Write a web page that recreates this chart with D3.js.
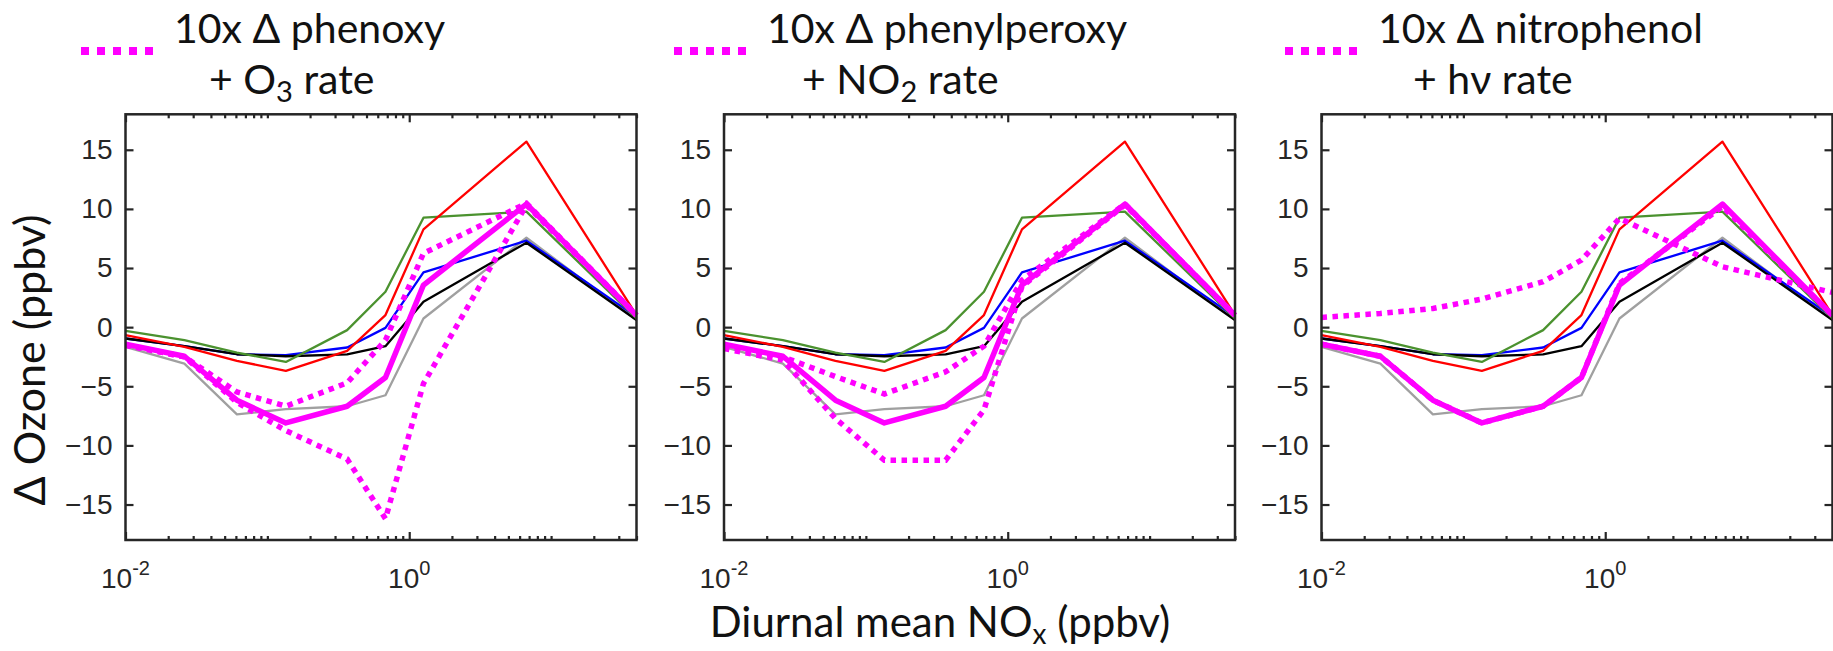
<!DOCTYPE html>
<html>
<head>
<meta charset="utf-8">
<script src="https://cdn.jsdelivr.net/npm/d3@7"></script>
<style>
  body { margin: 0; background: #fff; }
  svg { display: block; }
</style>
</head>
<body>
<div id="chart"></div>
<script>
// x positions (diurnal mean NOx, ppbv) shared by every run
const noxValues = [0.01, 0.026, 0.061, 0.135, 0.365, 0.68, 1.26, 6.7, 40];

// base runs (same in the three panels)
const grayRun = [-1.67, -3.08, -7.37, -6.94, -6.69, -5.76, 0.73, 7.56, 0.6];
const blueRun = [-0.96, -1.61, -2.29, -2.37, -1.72, -0.06, 4.63, 7.31, 0.87];
const blackRun = [-0.96, -1.61, -2.29, -2.46, -2.31, -1.61, 2.15, 7.14, 0.6];
const greenRun = [-0.31, -1.10, -2.15, -2.94, -0.25, 2.99, 9.26, 9.77, 0.73];
const redRun = [-0.68, -1.67, -2.85, -3.70, -2.00, 1.02, 8.27, 15.69, 1.02];
const magentaRun = [-1.44, -2.46, -6.18, -8.10, -6.69, -4.26, 3.56, 10.41, 1.0];

// dotted sensitivity runs, two per panel
const phenoxyHigh = [-1.52, -2.51, -5.48, -6.69, -4.71, -1.10, 6.24, 10.47, 1.0];
const phenoxyLow = [-1.52, -2.51, -6.35, -8.75, -11.15, -16.2, -4.77, 10.33, 1.0];
const peroxyHigh = [-1.61, -2.51, -4.18, -5.65, -3.78, -1.61, 3.98, 10.41, 1.0];
const peroxyLow = [-1.81, -2.79, -7.73, -11.25, -11.25, -7.0, 3.44, 10.33, 1.0];
const nitroHigh = [0.82, 1.16, 1.58, 2.37, 3.84, 5.67, 9.20, 5.11, 2.94];
const nitroLow = [-1.44, -2.46, -6.18, -8.10, -6.69, -4.26, 3.7, 10.2, 1.0];

const yTicks = [-15, -10, -5, 0, 5, 10, 15];
const xTickExponents = [-2, 0];
const titleLine1 = ['10x \u0394 phenoxy', '10x \u0394 phenylperoxy', '10x \u0394 nitrophenol'];
const titleLine2 = [['+ O', '3', ' rate'], ['+ NO', '2', ' rate'], ['+ h\u03bd rate', '', '']];
const dottedRuns = [[phenoxyHigh, phenoxyLow], [peroxyHigh, peroxyLow], [nitroHigh, nitroLow]];

const width = 1833;
const height = 651;
const panelLeft = [125.5, 724, 1321.5];
const panelWidth = 511;
const plotTop = 114.3;
const plotBottom = 540;
const legendX = [81, 674, 1285];
const axisColor = '#262626';

const svg = d3.select('#chart')
  .append('svg')
  .attr('width', width)
  .attr('height', height)
  .attr('viewBox', `0 0 ${width} ${height}`);

const y = d3.scaleLinear().domain([-18, 18]).range([plotBottom, plotTop]);

// minor log ticks 1..9 x 10^n, skip the labelled ones
const minorTicks = [];
for (let e = -2; e <= 1; e++) {
  for (let k = 1; k <= 9; k++) {
    const v = k * Math.pow(10, e);
    if (v > 40) continue;
    if (k === 1 && xTickExponents.includes(e)) continue;
    minorTicks.push(v);
  }
}

const lineStyles = [
  { data: grayRun, color: '#a0a0a0', width: 2.3 },
  { data: blueRun, color: '#0000ff', width: 2.3 },
  { data: blackRun, color: '#000000', width: 2.3 },
  { data: greenRun, color: '#4b922f', width: 2.3 },
  { data: redRun, color: '#ff0000', width: 2.3 },
  { data: magentaRun, color: '#ff00ff', width: 5.5 },
];

function drawPanel(i) {
  const x0 = panelLeft[i];
  const x = d3.scaleLog().domain([0.01, 40]).range([x0, x0 + panelWidth]);
  const g = svg.append('g');

  const line = d3.line()
    .x((d, j) => x(noxValues[j]))
    .y((d) => y(d));

  lineStyles.forEach((s) => {
    g.append('path')
      .attr('d', line(s.data))
      .attr('fill', 'none')
      .attr('stroke', s.color)
      .attr('stroke-width', s.width)
      .attr('stroke-linejoin', 'round');
  });

  dottedRuns[i].forEach((run) => {
    g.append('path')
      .attr('d', line(run))
      .attr('fill', 'none')
      .attr('stroke', '#ff00ff')
      .attr('stroke-width', 5.5)
      .attr('stroke-dasharray', '5.5,5.5');
  });

  // axes, ticks pointing inward
  const left = g.append('g')
    .attr('transform', `translate(${x0},0)`)
    .call(d3.axisLeft(y).tickValues(yTicks).tickSizeInner(-8).tickSizeOuter(0).tickPadding(13));
  g.append('g')
    .attr('transform', `translate(${x0 + panelWidth},0)`)
    .call(d3.axisRight(y).tickValues(yTicks).tickSizeInner(-8).tickSizeOuter(0).tickFormat(''));
  [plotBottom, plotTop].forEach((yy, k) => {
    const ax = k === 0 ? d3.axisBottom : d3.axisTop;
    g.append('g')
      .attr('transform', `translate(0,${yy})`)
      .call(ax(x).tickValues(minorTicks).tickSizeInner(-4).tickSizeOuter(0).tickFormat(''));
    g.append('g')
      .attr('transform', `translate(0,${yy})`)
      .call(ax(x).tickValues(xTickExponents.map((e) => Math.pow(10, e))).tickSizeInner(-8).tickSizeOuter(0).tickFormat(''));
  });

  g.selectAll('.domain').remove();
  g.selectAll('.tick line').attr('stroke', axisColor).attr('stroke-width', 2.2);
  left.selectAll('text')
    .attr('font-family', 'Liberation Sans, Arial, sans-serif')
    .attr('font-size', 28)
    .attr('fill', axisColor);

  // x tick labels 10^n
  xTickExponents.forEach((e) => {
    const t = g.append('text')
      .attr('x', x(Math.pow(10, e)))
      .attr('y', 588)
      .attr('text-anchor', 'middle')
      .attr('font-family', 'Liberation Sans, Arial, sans-serif')
      .attr('font-size', 28)
      .attr('fill', axisColor);
    t.append('tspan').text('10');
    t.append('tspan').attr('dy', -13).attr('font-size', 20).text(e === 0 ? '0' : '-' + Math.abs(e));
  });

  g.append('rect')
    .attr('x', x0)
    .attr('y', plotTop)
    .attr('width', panelWidth)
    .attr('height', plotBottom - plotTop)
    .attr('fill', 'none')
    .attr('stroke', axisColor)
    .attr('stroke-width', 2.5);

  // legend
  const lx = legendX[i];
  g.append('line')
    .attr('x1', lx).attr('x2', lx + 72)
    .attr('y1', 51).attr('y2', 51)
    .attr('stroke', '#ff00ff')
    .attr('stroke-width', 8)
    .attr('stroke-dasharray', '8,8');
  g.append('text')
    .attr('x', lx + 93)
    .attr('y', 43)
    .attr('font-family', 'Lato, sans-serif')
    .attr('font-size', 41)
    .attr('fill', '#111')
    .text(titleLine1[i]);
  const t2 = g.append('text')
    .attr('x', lx + 128)
    .attr('y', 94)
    .attr('font-family', 'Lato, sans-serif')
    .attr('font-size', 41)
    .attr('fill', '#111');
  t2.append('tspan').text(titleLine2[i][0]);
  if (titleLine2[i][1]) {
    t2.append('tspan').attr('dy', 8).attr('font-size', 29).text(titleLine2[i][1]);
    t2.append('tspan').attr('dy', -8).text(titleLine2[i][2]);
  }
}

[0, 1, 2].forEach(drawPanel);

// axis titles
const xt = svg.append('text')
  .attr('x', 940)
  .attr('y', 637)
  .attr('text-anchor', 'middle')
  .attr('font-family', 'Lato, sans-serif')
  .attr('font-size', 42)
  .attr('fill', '#111');
xt.append('tspan').text('Diurnal mean NO');
xt.append('tspan').attr('dy', 7).attr('font-size', 28).text('x');
xt.append('tspan').attr('dy', -7).text(' (ppbv)');

svg.append('text')
  .attr('transform', 'translate(45,360) rotate(-90)')
  .attr('text-anchor', 'middle')
  .attr('font-family', 'Lato, sans-serif')
  .attr('font-size', 43)
  .attr('fill', '#111')
  .text('\u0394 Ozone (ppbv)');
</script>
</body>
</html>
